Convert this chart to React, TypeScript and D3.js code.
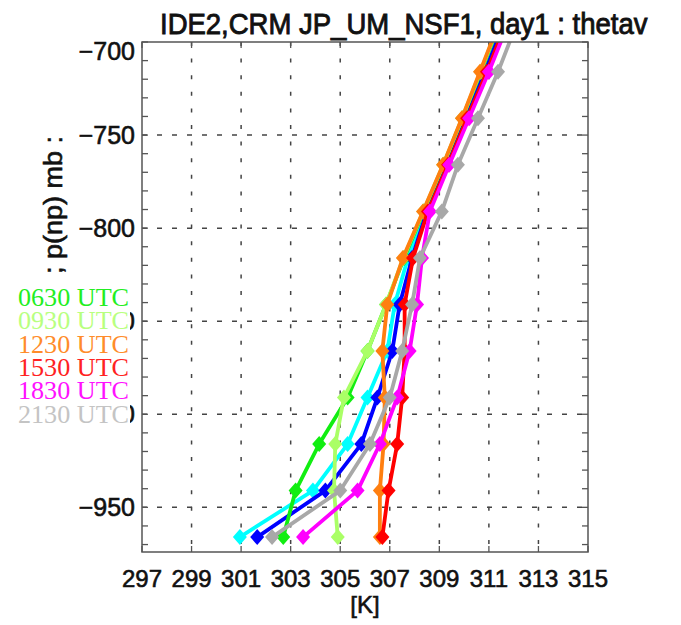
import React from "react";
import * as d3 from "d3";

const W = 681;
const H = 625;
const M = { left: 142, right: 588, top: 42, bottom: 552 };

const titleText = "IDE2,CRM JP_UM_NSF1, day1 : thetav";
const xLabel = "[K]";
const yLabel = "; p(np) mb :";

const xTicks = [297, 299, 301, 303, 305, 307, 309, 311, 313, 315];
const yTicks = [-700, -750, -800, -850, -900, -950];
const xDomain = [297, 315];
const yDomain = [-974, -700];

const levels = [-966, -941, -916, -891, -866, -841, -816, -791, -766, -741, -716, -691];

const cyanVals = [300.95, 303.9, 305.3, 306.1, 306.9, 307.2, 307.73, 308.42, 309.22, 309.98, 310.72, 311.45];
const blueVals = [301.65, 304.4, 305.85, 306.5, 307.1, 307.4, 307.9, 308.5, 309.3, 310.08, 310.84, 311.58];
const greenVals = [302.7, 303.2, 304.15, 305.3, 306.1, 306.85, 307.58, 308.37, 309.17, 309.93, 310.68, 311.4];
const lightGreenVals = [304.9, 304.75, 304.8, 305.15, 306.1, 306.85, 307.55, 308.35, 309.16, 309.92, 310.66, 311.38];
const orangeVals = [306.6, 306.6, 306.75, 306.8, 306.7, 306.9, 307.53, 308.34, 309.15, 309.91, 310.64, 311.37];
const redVals = [306.7, 306.95, 307.3, 307.5, 307.6, 307.6, 307.94, 308.54, 309.35, 310.12, 310.92, 311.65];
const magentaVals = [303.5, 305.7, 306.6, 307.3, 307.8, 308.1, 308.3, 308.62, 309.4, 310.2, 311.0, 311.75];
const grayVals = [302.25, 305.0, 306.2, 307.0, 307.5, 307.9, 308.22, 309.1, 309.75, 310.56, 311.37, 312.1];

const seriesNames = ["0030 UTC", "0330 UTC", "0630 UTC", "0930 UTC", "1230 UTC", "1530 UTC", "1830 UTC", "2130 UTC"];
const seriesColors = ["#00ffff", "#0000ff", "#11ee11", "#aaff66", "#ff7f10", "#ff0000", "#ff00ff", "#a8a8a8"];
const seriesVals = [cyanVals, blueVals, greenVals, lightGreenVals, orangeVals, redVals, magentaVals, grayVals];
const legendNames = ["0630 UTC", "0930 UTC", "1230 UTC", "1530 UTC", "1830 UTC", "2130 UTC"];
const legendColors = ["#22ee22", "#b8ff80", "#ff8c2a", "#ff2222", "#ff11ff", "#c4c4c4"];

export default function App() {
  const x = d3.scaleLinear().domain(xDomain).range([M.left, M.right]);
  const y = d3.scaleLinear().domain(yDomain).range([M.bottom, M.top]);
  const line = d3
    .line<[number, number]>()
    .x((d) => x(d[0]))
    .y((d) => y(d[1]));
  const minorY = d3.range(-970, -699, 10);
  const sans = "'Liberation Sans', Arial, Helvetica, sans-serif";
  const serif = "'Liberation Serif', 'Times New Roman', serif";
  const diamond = (cx: number, cy: number) =>
    `M${cx},${cy - 8}L${cx + 7},${cy}L${cx},${cy + 8}L${cx - 7},${cy}Z`;
  const heavy = { stroke: "#111", strokeWidth: 0.6 };

  return (
    <svg
      width={W}
      height={H}
      style={{ position: "absolute", left: 0, top: 0, background: "#fff" }}
    >
      <defs>
        <clipPath id="plotClip">
          <rect x={M.left} y={M.top} width={M.right - M.left} height={M.bottom - M.top} />
        </clipPath>
      </defs>
      <rect x={0} y={0} width={W} height={H} fill="#fff" />
      {/* grid */}
      {xTicks.slice(1, -1).map((t) => (
        <line
          key={"gx" + t}
          x1={x(t)}
          x2={x(t)}
          y1={M.top}
          y2={M.bottom}
          stroke="#444"
          strokeWidth={1.5}
          strokeDasharray="4,12.6"
        />
      ))}
      {yTicks.slice(1).map((t) => (
        <line
          key={"gy" + t}
          x1={M.left}
          x2={M.right}
          y1={y(t)}
          y2={y(t)}
          stroke="#444"
          strokeWidth={1.5}
          strokeDasharray="5,10"
        />
      ))}
      {/* ticks */}
      {minorY.map((t) => (
        <g key={"my" + t}>
          <line x1={M.left} x2={M.left + 6} y1={y(t)} y2={y(t)} stroke="#555" strokeWidth={1.3} />
          <line x1={M.right} x2={M.right - 6} y1={y(t)} y2={y(t)} stroke="#555" strokeWidth={1.3} />
        </g>
      ))}
      {xTicks.map((t) => (
        <g key={"tx" + t}>
          <line x1={x(t)} x2={x(t)} y1={M.bottom} y2={M.bottom - 6} stroke="#555" strokeWidth={1.3} />
          <line x1={x(t)} x2={x(t)} y1={M.top} y2={M.top + 6} stroke="#555" strokeWidth={1.3} />
        </g>
      ))}
      {/* series */}
      <g clipPath="url(#plotClip)">
        {seriesVals.map((vals, i) => {
          const pts: [number, number][] = vals.map((v, j) => [v, levels[j]]);
          return (
            <g key={seriesNames[i]}>
              <path d={line(pts) || ""} fill="none" stroke={seriesColors[i]} strokeWidth={3.8} strokeLinejoin="round" />
              {pts.map((p, j) => (
                <path key={j} d={diamond(x(p[0]), y(p[1]))} fill={seriesColors[i]} />
              ))}
            </g>
          );
        })}
      </g>
      {/* frame */}
      <rect
        x={M.left}
        y={M.top}
        width={M.right - M.left}
        height={M.bottom - M.top}
        fill="none"
        stroke="#555"
        strokeWidth={1.5}
      />
      {/* x tick labels */}
      {xTicks.map((t) => (
        <text key={"xl" + t} x={x(t)} y={587} textAnchor="middle" fontFamily={sans} fontSize={24} fill="#111" {...heavy}>
          {t}
        </text>
      ))}
      <text x={(M.left + M.right) / 2} y={613} textAnchor="middle" fontFamily={sans} fontSize={24} fill="#111" {...heavy}>
        {xLabel}
      </text>
      {/* y tick labels */}
      {yTicks.map((t, i) => (
        <text
          key={"yl" + t}
          x={135}
          y={y(t) + 9 + (i === 0 ? 9 : 0)}
          textAnchor="end"
          fontFamily={sans}
          fontSize={25}
          fill="#111"
          {...heavy}
        >
          {"\u2212" + Math.abs(t)}
        </text>
      ))}
      <text
        transform={`translate(62,${205}) rotate(-90) scale(1.08,1)`}
        textAnchor="middle"
        fontFamily={sans}
        fontSize={25}
        fill="#111"
        {...heavy}
      >
        {yLabel}
      </text>
      {/* legend */}
      <rect x={10} y={286} width={120} height={145} fill="#fff" />
      {legendNames.map((n, i) => (
        <text
          key={n}
          x={129}
          y={306 + i * 23.3}
          textAnchor="end"
          fontFamily={serif}
          fontSize={25}
          fill={legendColors[i]}
          textLength={111}
          lengthAdjust="spacingAndGlyphs"
        >
          {n}
        </text>
      ))}
      {/* title */}
      <text
        transform="translate(160,34) scale(0.917,1)"
        x={0}
        y={0}
        fontFamily={sans}
        fontSize={30}
        fill="#111"
        stroke="#111"
        strokeWidth={0.9}
      >
        {titleText}
      </text>
    </svg>
  );
}
